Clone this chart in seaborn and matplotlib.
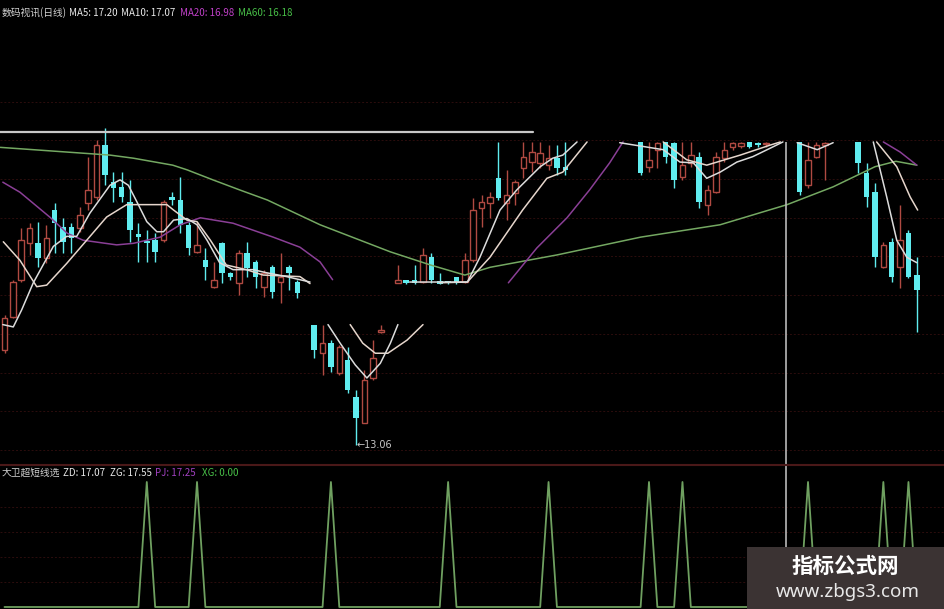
import numpy as np
import pandas as pd
import matplotlib
matplotlib.use('Agg')
import matplotlib.pyplot as plt
import seaborn as sns
from matplotlib.lines import Line2D
from matplotlib.patches import Rectangle

nan = np.nan

# daily bars, left to right (nan = bar not visible in the picture)
opens = [14.29, 14.72, 15.20, 15.67, 15.67, 15.48, 16.10, 15.88, 15.88, 15.87,
         16.19, 16.27, 16.94, 16.46, 16.40, 16.20, 15.79, 15.69, 15.71, 15.71,
         16.27, 16.23, 15.91, 15.56, 15.45, 15.11, 15.67, 15.29, 15.16, 15.55,
         15.43, 15.11, 15.36, 15.17, 15.36, 15.17, nan, 14.61, 14.25, 14.38,
         13.99, 14.16, 13.68, 13.35, 13.93, 14.52, nan, 15.16, 15.18, 15.20,
         15.17, 15.49, 15.17, 15.16, 15.24, 15.17, 15.45, 16.13, 16.19, 16.51,
         16.19, 16.32, 16.64, 16.72, 16.71, 16.68, 16.77, 16.66, nan, nan,
         nan, nan, nan, nan, nan, nan, 16.98, 16.66, 16.88, 16.98,
         16.97, 16.53, 16.71, 16.79, 16.17, 16.33, 16.77, 16.91, 16.93, 16.98,
         16.95, 16.95, nan, nan, nan, 16.98, 16.42, 16.79, 16.94, nan,
         nan, nan, 16.98, 16.58, 16.33, 15.36, 15.69, 15.36, 15.80, 15.26]
highs = [14.75, 15.19, 15.87, 15.93, 15.95, 15.91, 16.19, 16.00, 15.93, 16.14,
         16.79, 17.01, 17.16, 16.59, 16.59, 16.49, 15.93, 15.84, 15.80, 16.23,
         16.33, 16.53, 15.95, 15.95, 15.61, 15.43, 15.69, 15.30, 15.58, 15.69,
         15.45, 15.33, 15.39, 15.55, 15.39, 15.20, nan, 14.61, 14.61, 14.42,
         14.36, 14.33, 13.78, 14.03, 14.42, 14.61, nan, 15.39, 15.19, 15.39,
         15.61, 15.55, 15.29, 15.17, 15.24, 15.55, 16.26, 16.29, 16.33, 16.98,
         16.62, 16.49, 16.98, 16.98, 16.98, 16.94, 16.94, 16.98, nan, nan,
         nan, nan, nan, nan, nan, nan, 16.98, 16.98, 16.98, 16.98,
         16.98, 16.98, 16.98, 16.85, 16.42, 16.85, 16.98, 16.98, 16.98, 16.98,
         16.98, 16.98, nan, nan, nan, 16.98, 16.98, 16.98, 16.98, nan,
         nan, nan, 16.98, 16.71, 16.45, 15.69, 15.74, 16.17, 15.84, 15.49]
lows = [14.25, 14.70, 15.17, 15.52, 15.36, 15.42, 15.55, 15.55, 15.55, 15.82,
        16.10, 16.23, 16.42, 16.20, 16.20, 15.69, 15.43, 15.43, 15.43, 15.69,
        16.17, 15.80, 15.52, 15.55, 15.20, 15.09, 15.16, 15.20, 15.00, 15.24,
        15.09, 14.98, 14.96, 14.90, 15.07, 14.96, nan, 14.19, 13.97, 14.01,
        13.97, 13.74, 13.06, 13.35, 13.90, 14.51, nan, 15.16, 15.15, 15.14,
        15.16, 15.16, 15.14, 15.15, 15.14, 15.16, 15.43, 15.88, 16.00, 16.23,
        15.97, 16.17, 16.51, 16.59, 16.64, 16.62, 16.55, 16.55, nan, nan,
        nan, nan, nan, nan, nan, nan, 16.55, 16.59, 16.64, 16.71,
        16.38, 16.49, 16.66, 16.13, 16.04, 16.32, 16.72, 16.88, 16.90, 16.90,
        16.92, 16.92, nan, nan, nan, 16.29, 16.38, 16.77, 16.49, nan,
        nan, nan, 16.58, 16.14, 15.36, 15.35, 15.17, 15.09, 15.22, 14.52]
closes = [14.71, 15.17, 15.71, 15.87, 15.48, 15.74, 15.93, 15.69, 15.74, 16.04,
          16.36, 16.94, 16.55, 16.38, 16.27, 15.84, 15.75, 15.67, 15.56, 16.20,
          16.23, 15.91, 15.61, 15.65, 15.36, 15.20, 15.29, 15.24, 15.55, 15.35,
          15.24, 15.29, 15.04, 15.24, 15.29, 15.03, nan, 14.29, 14.38, 14.07,
          14.33, 13.78, 13.41, 13.90, 14.19, 14.55, nan, 15.20, 15.16, 15.16,
          15.52, 15.20, 15.15, 15.155, 15.16, 15.45, 16.10, 16.20, 16.27, 16.26,
          16.29, 16.46, 16.79, 16.85, 16.84, 16.77, 16.64, 16.62, nan, nan,
          nan, nan, nan, nan, nan, nan, 16.58, 16.75, 16.97, 16.79,
          16.49, 16.68, 16.81, 16.20, 16.36, 16.79, 16.88, 16.97, 16.97, 16.91,
          16.94, 16.96, nan, nan, nan, 16.33, 16.75, 16.94, 16.97, nan,
          nan, nan, 16.71, 16.27, 15.49, 15.65, 15.24, 15.71, 15.24, 15.07]

# moving average lines (bar position, price); nan breaks a line
ma5_x = [-0.2, 1.05, 2.05, 3.44, 5.83, 7.43, 8.63, 10.2, 12.6, 13.8, 14.8, 15.8, 17.0,
         18.2, 19.0, 20.2, 21.8, 23.0, 24.2, 25.7, 27.3, 29.7, 31.3, 33.7, 36.5, nan,
         38.65, 40.1, 41.9, 43.3, 44.9, 46.1, 47.0, nan,
         48.4, 52.0, 55.3, 56.8, 59.2, 61.2, 64.0, 65.5, 66.7, 68.4, nan,
         73.5, 78.7, 80.7, 82.3, 83.9, 85.5, 87.5, 89.4, 91.5, 93.0, nan,
         94.7, 97.1, 99.0, nan,
         103.8, 105.4, 106.6, 107.8, 109.0]
ma5_y = [14.62, 14.59, 14.81, 15.16, 15.63, 15.76, 15.76, 16.06, 16.42, 16.49, 16.42, 16.21, 15.95,
         15.82, 15.82, 15.97, 15.99, 15.91, 15.71, 15.42, 15.33, 15.33, 15.29, 15.24, 15.17, nan,
         14.62, 14.38, 14.10, 13.93, 14.12, 14.38, 14.62, nan,
         15.17, 15.17, 15.17, 15.49, 16.10, 16.36, 16.66, 16.77, 16.81, 16.98, nan,
         16.97, 16.88, 16.72, 16.71, 16.51, 16.59, 16.72, 16.79, 16.90, 16.98, nan,
         16.97, 16.88, 16.97, nan,
         16.98, 16.27, 15.71, 15.49, 15.42]
ma10_x = [-0.14, 1.85, 3.85, 5.04, 7.43, 9.82, 12.2, 14.6, 19.4, 20.2, 21.8, 23.0, 24.6,
          26.5, 28.9, 30.9, 35.3, 36.5, nan,
          41.3, 42.8, 44.3, 45.8, 48.1, 50.0, nan,
          52.0, 55.3, 58.0, 61.9, 64.8, 66.7, 69.6, nan,
          78.7, 81.5, 83.9, 87.9, 91.5, 92.7, nan,
          104.2, 106.6, 108.2, 109.1]
ma10_y = [15.69, 15.45, 15.11, 15.13, 15.41, 15.71, 16.01, 16.17, 16.17, 16.10, 15.97, 15.95, 15.71,
          15.39, 15.33, 15.26, 15.24, 15.15, nan,
          14.62, 14.38, 14.25, 14.25, 14.42, 14.62, nan,
          15.16, 15.17, 15.49, 16.10, 16.51, 16.59, 16.98, nan,
          16.98, 16.75, 16.68, 16.81, 16.94, 16.98, nan,
          16.98, 16.66, 16.27, 16.10]
ma20_x = [-0.2, 1.85, 5.4, 7.5, 9.4, 13.4, 15.4, 18.6, 21.0, 23.4, 27.3, 32.1, 35.3, 37.7, 39.2, nan,
          60.2, 63.6, 67.2, 69.9, 72.3, 73.9, nan,
          105.0, 107.0, 109.0]
ma20_y = [16.46, 16.33, 16.01, 15.80, 15.71, 15.65, 15.67, 15.75, 15.91, 16.00, 15.93, 15.75, 15.62, 15.43, 15.20, nan,
          15.16, 15.61, 16.00, 16.36, 16.71, 16.98, nan,
          16.98, 16.85, 16.68]
ma60_x = [-0.5, 12.6, 15.4, 20.1, 21.8, 24.9, 28.1, 31.4, 37.7, 46.1, 50.9, 55.0, 58.0,
          66.0, 76.0, 85.5, 93.5, 99.0, 104.0, 106.5, 109.0]
ma60_y = [16.91, 16.81, 16.77, 16.68, 16.62, 16.49, 16.36, 16.23, 15.91, 15.56, 15.39, 15.26, 15.36,
          15.52, 15.75, 15.91, 16.17, 16.40, 16.66, 16.73, 16.68]

# lower panel: bars where the XG signal fires (value 100), otherwise 0
xg_peaks = [17, 23, 39, 53, 65, 77, 81, 96, 105, 108]
cursor_bar = 93.4

main_grid = [13.0, 13.5, 14.0, 14.5, 15.0, 15.5, 16.0, 16.5, 17.0]
sub_grid = [20, 40, 60, 80]

header_main = [('数码视讯(日线)', '#d0d0d0'), ('MA5: 17.20', '#e8e8e8'), ('MA10: 17.07', '#e8e8e8'),
               ('MA20: 16.98', '#c040c8'), ('MA60: 16.18', '#48c048')]
header_sub = [('大卫超短线选', '#d0d0d0'), ('ZD: 17.07', '#e8e8e8'), ('ZG: 17.55', '#e8e8e8'),
              ('PJ: 17.25', '#a040c0'), ('XG: 0.00', '#48c048')]

RED = '#b04a42'
CYAN = '#60ecef'
GRID = '#2c0d0d'

sns.set_theme(style='dark', rc={'axes.facecolor': 'black', 'figure.facecolor': 'black'})
plt.rcParams['font.family'] = ['Noto Sans CJK SC', 'DejaVu Sans']

W, H = 945, 609
fig = plt.figure(figsize=(W / 100, H / 100), dpi=100)
ax = fig.add_axes([0, 144 / H, 1, 465 / H])
ax2 = fig.add_axes([0, 0, 1, 144 / H])
x0, x1 = -4.5 / 8.37, 940.5 / 8.37

# ---- candles ----
n = len(opens)
df = pd.DataFrame({'o': opens, 'h': highs, 'l': lows, 'c': closes})
df['k'] = np.arange(n)
df = df.dropna()
up = df[df.c >= df.o]
dn = df[df.c < df.o]
ax.hlines(main_grid, x0, x1, colors=GRID, linestyles=(0, (2, 2)), lw=0.7, zorder=1)
ax.hlines([17.5], x0, 63.1, colors=GRID, linestyles=(0, (2, 2)), lw=0.7, zorder=1)
ax.vlines(up.k, up.l, up.h, color=RED, lw=1.0, zorder=3)
ax.bar(up.k, np.maximum(up.c - up.o, 0.02), bottom=up.o, width=0.66,
       facecolor='black', edgecolor=RED, lw=1.0, zorder=4)
ax.vlines(dn.k, dn.l, dn.h, color=CYAN, lw=1.0, zorder=3)
ax.bar(dn.k, np.maximum(dn.o - dn.c, 0.03), bottom=dn.c, width=0.66, color=CYAN, lw=0, zorder=4)


def draw_line(a, xs, ys, color, lw=1.1):
    d = pd.DataFrame({'x': xs, 'y': ys})
    d['seg'] = d['x'].isna().cumsum()
    d = d.dropna()
    sns.lineplot(data=d, x='x', y='y', units='seg', estimator=None, sort=False,
                 color=color, lw=lw, ax=a, legend=False, zorder=5)


draw_line(ax, ma60_x, ma60_y, '#74a862')
draw_line(ax, ma20_x, ma20_y, '#8a3f96')
draw_line(ax, ma10_x, ma10_y, '#e6d6cc')
draw_line(ax, ma5_x, ma5_y, '#dcdcdc')

lo = np.nanargmin(lows)
ax.text(lo + 0.1, lows[lo], '←' + f'{lows[lo]:.2f}', color='#c8c8c8', fontsize=7,
        va='center', ha='left', family=['DejaVu Sans'])
ax.vlines([cursor_bar], 12.806, 16.98, color='#b8b8b8', lw=1.2, zorder=6)
ax.set_xlim(x0, x1)
ax.set_ylim(12.806, 13.0 + 450 / 77.4)
ax.set_axis_off()

# ---- lower indicator ----
xg = np.zeros(n)
xg[xg_peaks] = 100
ax2.hlines(sub_grid, x0, x1, colors=GRID, linestyles=(0, (2, 2)), lw=0.7, zorder=1)
sns.lineplot(x=np.arange(n), y=xg, ax=ax2, color='#6fa060', lw=1.3, zorder=3)
ax2.axvline(cursor_bar, color='#b8b8b8', lw=1.2, zorder=2)
ax2.set_xlim(x0, x1)
ax2.set_ylim(-1.6, 113.6)
ax2.set_axis_off()

# ---- frame lines and headers ----
fig.add_artist(Line2D([0, 533 / W], [1 - 132 / H] * 2, color='#c8c8c8', lw=1.6))
fig.add_artist(Line2D([0, 1], [1 - 465 / H] * 2, color='#4a1818', lw=1.5))

for (s, c), px in zip(header_main, [2, 69, 121, 180, 238]):
    fig.text(px / W, 1 - 13 / H, s, color=c, fontsize=7, va='center', ha='left')
for (s, c), px in zip(header_sub, [2, 63, 110, 155, 202]):
    fig.text(px / W, 1 - 473 / H, s, color=c, fontsize=7, va='center', ha='left')

# watermark box
fig.add_artist(Rectangle((747 / W, 0), 198 / W, 62 / H, transform=fig.transFigure,
                         facecolor='#3b3333', edgecolor='none', zorder=10))
fig.text(845 / W, 1 - 566 / H, '指标公式网', color='white', fontsize=15.5,
         fontweight='bold', ha='center', va='center', zorder=11)
fig.text(848 / W, 1 - 592 / H, 'www.zbgs3.com', color='#e8e8e8', fontsize=13.5,
         ha='center', va='center', zorder=11, family=['Noto Sans', 'DejaVu Sans'])

fig.savefig('out.png', dpi=100, facecolor='black')
